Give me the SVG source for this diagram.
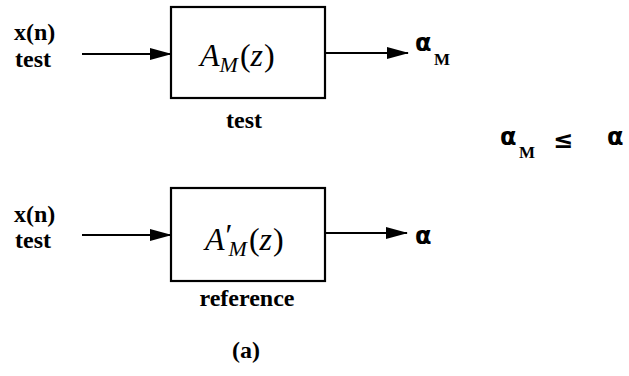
<svg xmlns="http://www.w3.org/2000/svg" width="629" height="376" viewBox="0 0 629 376">
<style>
.lbl{font-family:"Liberation Serif",serif;font-weight:bold;font-size:24px;fill:#000}
.math{font-family:"Liberation Serif",serif;font-style:italic;font-size:32px;fill:#000}
.sub{font-family:"Liberation Serif",serif;font-style:italic;font-size:22px;fill:#000}
.up{font-style:normal}
.gr{font-family:"DejaVu Sans",sans-serif;font-weight:bold;font-size:24px;fill:#000}
.grs{font-family:"Liberation Serif",serif;font-weight:bold;font-size:17px;fill:#000}
.box{fill:#fff;stroke:#000;stroke-width:2.2}
.wire{stroke:#000;stroke-width:2.2;fill:none}
</style>
<defs>
<marker id="ah" markerWidth="22" markerHeight="12" refX="21" refY="6" orient="auto" markerUnits="userSpaceOnUse">
<path d="M0,0 L22,6 L0,12 Z" fill="#000"/>
</marker>
</defs>
<g id="in1"><text class="lbl" x="14" y="40">x(n)</text><text class="lbl" x="15" y="67">test</text></g>
<g id="box1"><rect class="box" x="171" y="7" width="154" height="91"/>
<text class="math" x="200" y="66">A<tspan class="sub" dy="6">M</tspan><tspan class="up" dx="2" dy="-6">(</tspan>z<tspan class="up" dx="1">)</tspan></text>
<text class="lbl" x="244" y="128" text-anchor="middle">test</text></g>
<g id="out1"><text class="gr" x="415" y="51">α</text><text class="grs" x="434" y="65">M</text></g>
<g id="in2"><text class="lbl" x="14" y="222">x(n)</text><text class="lbl" x="15" y="248">test</text></g>
<g id="box2"><rect class="box" x="171" y="188" width="154" height="93"/>
<text class="math" x="205" y="250">A<tspan dx="-1" dy="-4">′</tspan><tspan class="sub" dx="-2" dy="10">M</tspan><tspan class="up" dx="2" dy="-6">(</tspan>z<tspan class="up" dx="1">)</tspan></text>
<text class="lbl" x="247" y="306" text-anchor="middle">reference</text></g>
<g id="out2"><text class="gr" x="415" y="244">α</text></g>
<g id="rel"><text class="gr" x="500" y="145">α</text><text class="grs" x="519" y="158">M</text>
<text class="gr" x="553" y="148">≤</text><text class="gr" x="607" y="145">α</text></g>
<g id="cap"><text class="lbl" x="246" y="358" text-anchor="middle">(a)</text></g>
<g id="connectors">
<line class="wire" x1="82" y1="54" x2="171" y2="54" marker-end="url(#ah)"/>
<line class="wire" x1="325" y1="53" x2="408" y2="53" marker-end="url(#ah)"/>
<line class="wire" x1="82" y1="235" x2="171" y2="235" marker-end="url(#ah)"/>
<line class="wire" x1="325" y1="233" x2="407" y2="233" marker-end="url(#ah)"/>
</g>
</svg>
